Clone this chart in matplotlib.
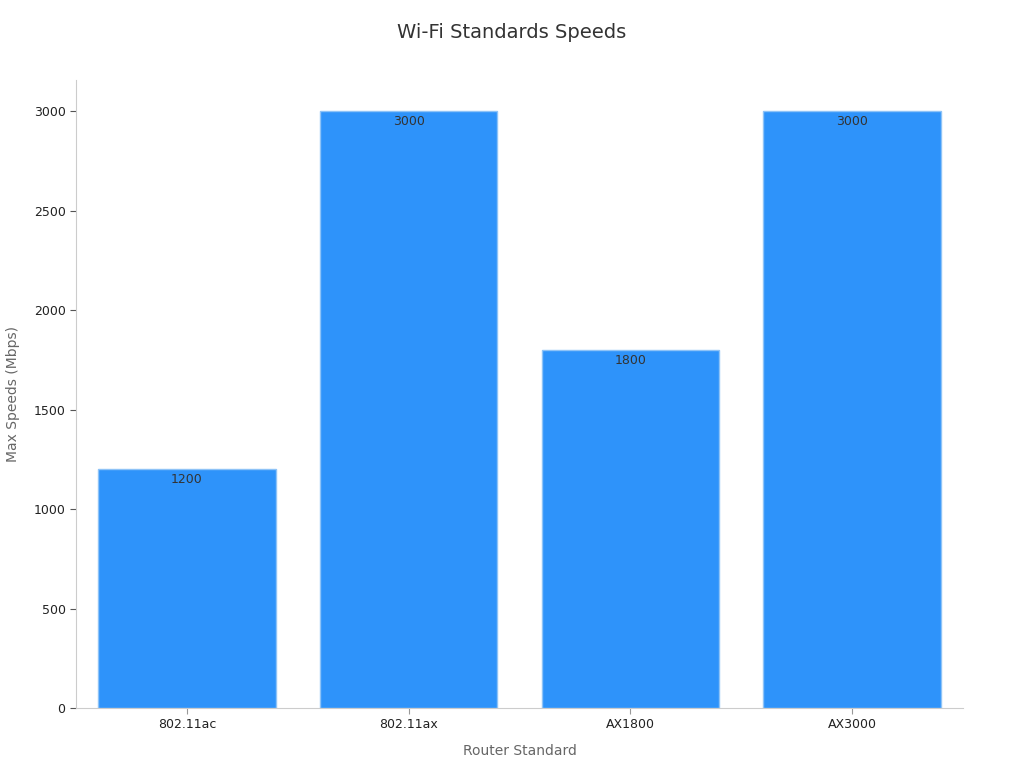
import matplotlib.pyplot as plt

# Dados
standards = ['802.11ac', '802.11ax', 'AX1800', 'AX3000']
speeds = [1200, 3000, 1800, 3000]

fig = plt.figure(figsize=(10.24, 7.68), dpi=100)
ax = fig.add_axes([0.0742, 0.0781, 0.8662, 0.8177])

bars = ax.bar(standards, speeds, width=0.8, color='#2E93FA',
              edgecolor='#8EC3F7', linewidth=1)

# Rótulos dentro das barras
for b, v in zip(bars, speeds):
    ax.annotate(str(v), (b.get_x() + b.get_width() / 2, v),
                xytext=(0, -3), textcoords='offset points',
                ha='center', va='top', fontsize=9, color='#333333')

ax.set_xlim(-0.5, 3.5)
ax.set_ylim(0, 3156)
ax.set_yticks([0, 500, 1000, 1500, 2000, 2500, 3000])

fig.text(0.5, 1 - 33 / 768, 'Wi-Fi Standards Speeds', fontsize=14,
         color='#333333', ha='center', va='center')
ax.set_xlabel('Router Standard', fontsize=10, color='#666666', labelpad=9)
ax.set_ylabel('Max Speeds (Mbps)', fontsize=10, color='#666666', labelpad=10)

for s in ['top', 'right']:
    ax.spines[s].set_visible(False)
for s in ['left', 'bottom']:
    ax.spines[s].set_color('#CCCCCC')

ax.tick_params(axis='x', colors='#999999', labelcolor='#222222', labelsize=9, length=4)
ax.tick_params(axis='y', colors='#555555', labelcolor='#222222', labelsize=9, length=4)

fig.savefig('out.png', dpi=100)
